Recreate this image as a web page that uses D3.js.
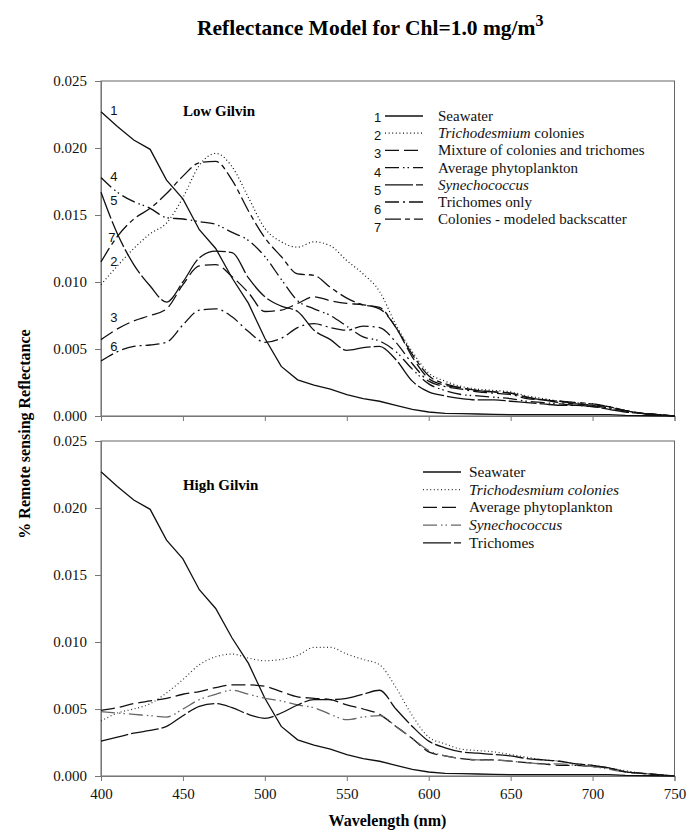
<!DOCTYPE html>
<head>
    <meta charset="utf-8">
    <script src="https://d3js.org/d3.v7.min.js"></script>
    <style>
        body {
            margin: 0;
            background: #fff;
        }

        svg text {
            font-family: "Liberation Serif", "Times New Roman", serif;
        }

        .title {
            font-size: 21.5px;
            font-weight: bold;
        }

        .axis text {
            font-size: 15px;
            fill: #111;
        }

        .axis path, .axis line {
            stroke: #777;
        }

        .frame {
            fill: none;
            stroke: #666;
        }

        .curve {
            fill: none;
            stroke: #111;
            stroke-width: 1.3px;
        }

        .legend text {
            fill: #111;
        }

        svg text.num {
            font-family: "Liberation Sans", Arial, sans-serif;
            font-size: 13px;
            fill: #111;
        }

        .panel-title {
            font-size: 15px;
            font-weight: bold;
        }

        .axis-label {
            font-size: 16px;
            font-weight: bold;
        }
    </style>
</head>

<body>
<script>
    // wavelength grid (nm)
    var wavelengths = [400, 410, 420, 430, 440, 450, 460, 470, 480, 490,
        500, 510, 520, 530, 540, 550, 560, 570, 580, 590,
        600, 610, 620, 630, 640, 650, 660, 670, 680, 690,
        700, 710, 720, 730, 740, 750];

    var xTicks = [400, 450, 500, 550, 600, 650, 700, 750];
    var yTicks = [0, 0.005, 0.010, 0.015, 0.020, 0.025];

    // seawater is the same in both panels
    var seawater = [0.0227, 0.0216, 0.0206, 0.0199, 0.0176, 0.0162, 0.0139, 0.0125, 0.0103, 0.0084,
        0.0058, 0.0037, 0.0027, 0.0023, 0.0020, 0.0016, 0.0013, 0.0011, 0.0008, 0.0005,
        0.0003, 0.0002, 0.00018, 0.00015, 0.00012, 0.0001, 0.0001, 0.0001, 0.0001, 0.0001,
        0.0001, 0.0001, 0.00005, 0.00003, 0.00002, 0];

    // Low Gilvin
    var lowColonies = [0.0098, 0.0112, 0.0125, 0.0136, 0.0144, 0.0163, 0.0187, 0.0196, 0.0186, 0.0163,
        0.0140, 0.0130, 0.0126, 0.0130, 0.0127, 0.0116, 0.0106, 0.0093, 0.0068, 0.0048,
        0.0032, 0.0026, 0.0022, 0.0020, 0.0019, 0.0018, 0.0015, 0.0013, 0.0011, 0.0010,
        0.0009, 0.0007, 0.0004, 0.0002, 0.0001, 0];
    var lowMixture = [0.0057, 0.0065, 0.0071, 0.0075, 0.0080, 0.0098, 0.0112, 0.0113, 0.0104, 0.0092,
        0.0078, 0.0079, 0.0084, 0.0089, 0.0086, 0.0084, 0.0083, 0.0080, 0.0066, 0.0044,
        0.0028, 0.0023, 0.0021, 0.0019, 0.0018, 0.0017, 0.0014, 0.0012, 0.0011, 0.0009,
        0.0008, 0.0007, 0.0004, 0.0002, 0.0001, 0];
    var lowAvgPhyto = [0.0178, 0.0167, 0.0160, 0.0155, 0.0148, 0.0147, 0.0145, 0.0143, 0.0137, 0.0131,
        0.0119, 0.0102, 0.0086, 0.0080, 0.0075, 0.0067, 0.0059, 0.0056, 0.0048, 0.0035,
        0.0024, 0.0019, 0.0016, 0.0015, 0.0014, 0.0013, 0.0011, 0.0010, 0.0009, 0.0008,
        0.0007, 0.0006, 0.0004, 0.0002, 0.0001, 0];
    var lowSynecho = [0.0167, 0.0136, 0.0113, 0.0097, 0.0085, 0.0100, 0.0118, 0.0123, 0.0122, 0.0103,
        0.0089, 0.0082, 0.0078, 0.0064, 0.0057, 0.0049, 0.0051, 0.0052, 0.0042, 0.0026,
        0.0018, 0.0015, 0.0013, 0.0012, 0.0012, 0.0011, 0.0010, 0.0009, 0.0008, 0.0008,
        0.0007, 0.0005, 0.0003, 0.0002, 0.0001, 0];
    var lowTrichomes = [0.0041, 0.0048, 0.0052, 0.0053, 0.0055, 0.0068, 0.0079, 0.0080, 0.0074, 0.0063,
        0.0055, 0.0058, 0.0066, 0.0069, 0.0066, 0.0064, 0.0067, 0.0066, 0.0055, 0.0039,
        0.0026, 0.0022, 0.0020, 0.0018, 0.0017, 0.0016, 0.0013, 0.0012, 0.0010, 0.0009,
        0.0008, 0.0006, 0.0004, 0.0002, 0.0001, 0];
    var lowModeled = [0.0115, 0.0134, 0.0147, 0.0155, 0.0166, 0.0179, 0.0189, 0.0190, 0.0176, 0.0153,
        0.0133, 0.0119, 0.0106, 0.0105, 0.0096, 0.0088, 0.0083, 0.0081, 0.0066, 0.0046,
        0.0030, 0.0024, 0.0021, 0.0019, 0.0018, 0.0017, 0.0014, 0.0012, 0.0011, 0.0010,
        0.0009, 0.0007, 0.0004, 0.0002, 0.0001, 0];

    // High Gilvin
    var highColonies = [0.0041, 0.0047, 0.0050, 0.0054, 0.0062, 0.0072, 0.0083, 0.0089, 0.0091, 0.0088,
        0.0086, 0.0087, 0.0090, 0.0096, 0.0096, 0.0091, 0.0087, 0.0083, 0.0066, 0.0045,
        0.0029, 0.0024, 0.0020, 0.0019, 0.0018, 0.0016, 0.0014, 0.0012, 0.0011, 0.0009,
        0.0008, 0.0006, 0.0004, 0.0002, 0.0001, 0];
    var highAvgPhyto = [0.0049, 0.0051, 0.0054, 0.0056, 0.0058, 0.0061, 0.0063, 0.0066, 0.0068, 0.0068,
        0.0067, 0.0063, 0.0059, 0.0058, 0.0057, 0.0053, 0.0050, 0.0046, 0.0037, 0.0028,
        0.0018, 0.0015, 0.0013, 0.0012, 0.0012, 0.0011, 0.0010, 0.0009, 0.0008, 0.0008,
        0.0007, 0.0006, 0.0003, 0.0002, 0.0001, 0];
    var highSynecho = [0.0048, 0.0047, 0.0046, 0.0045, 0.0044, 0.0050, 0.0057, 0.0061, 0.0064, 0.0061,
        0.0058, 0.0056, 0.0053, 0.0051, 0.0046, 0.0042, 0.0044, 0.0045, 0.0037, 0.0028,
        0.0019, 0.0015, 0.0013, 0.0012, 0.0012, 0.0011, 0.0010, 0.0009, 0.0009, 0.0008,
        0.0007, 0.0005, 0.0003, 0.0002, 0.0001, 0];
    var highTrichomes = [0.0026, 0.0029, 0.0032, 0.0034, 0.0037, 0.0045, 0.0052, 0.0054, 0.0051, 0.0046,
        0.0043, 0.0047, 0.0053, 0.0057, 0.0057, 0.0058, 0.0061, 0.0064, 0.0050, 0.0037,
        0.0026, 0.0021, 0.0018, 0.0017, 0.0016, 0.0015, 0.0013, 0.0012, 0.0011, 0.0009,
        0.0008, 0.0006, 0.0003, 0.0002, 0.0001, 0];

    // legend names, [text, italic] pieces
    var lowNames = [
        [["Seawater", false]],
        [["Trichodesmium", true], [" colonies", false]],
        [["Mixture of colonies and trichomes", false]],
        [["Average phytoplankton", false]],
        [["Synechococcus", true]],
        [["Trichomes only", false]],
        [["Colonies - modeled backscatter", false]]
    ];
    var highNames = [
        [["Seawater", false]],
        [["Trichodesmium colonies", true]],
        [["Average phytoplankton", false]],
        [["Synechococcus", true]],
        [["Trichomes", false]]
    ];

    // curve number labels at the left edge (wavelength, reflectance)
    var curveLabels = ["1", "4", "5", "7", "2", "3", "6"];
    var curveLabelW = [405.7, 405.7, 405.7, 404.5, 405.7, 405.7, 405.7];
    var curveLabelV = [0.0228, 0.0179, 0.0161, 0.01336, 0.01157, 0.00739, 0.00522];

    // line styles
    var dashes = {
        solid: null,
        dotted: "1,2.6",
        longDash: "14,5",
        dashDotDot: "14,4,1.5,3,1.5,4",
        longSolid: "28,3",
        dashDot: "14,4,2,4",
        dashShort: "16,4,5,4"
    };

    var lowStyles = ["solid", "dotted", "longDash", "dashDotDot", "longSolid", "dashDot", "dashShort"];
    var highStyles = ["solid", "dotted", "longDash", "dashDotDot", "longSolid"];
    var highColours = ["#111", "#333", "#111", "#666", "#111"];

    var lowData = [seawater, lowColonies, lowMixture, lowAvgPhyto, lowSynecho, lowTrichomes, lowModeled];
    var highData = [seawater, highColonies, highAvgPhyto, highSynecho, highTrichomes];

    var svg = d3.select("body").append("svg")
        .attr("width", 689)
        .attr("height", 834);

    var x = d3.scaleLinear().domain([400, 750]).range([101, 674.5]);
    var yLow = d3.scaleLinear().domain([0, 0.025]).range([416, 81]);
    var yHigh = d3.scaleLinear().domain([0, 0.025]).range([776, 441]);

    function drawPanel(y, series, styles, colours, showX) {
        var g = svg.append("g");

        g.append("rect")
            .attr("class", "frame")
            .attr("x", x(400))
            .attr("y", y(0.025))
            .attr("width", x(750) - x(400))
            .attr("height", y(0) - y(0.025));

        g.append("g")
            .attr("class", "axis")
            .attr("transform", "translate(" + x(400) + ",0)")
            .call(d3.axisLeft(y).tickValues(yTicks).tickSize(6).tickPadding(8)
                .tickFormat(d3.format(".3f")));

        g.append("g")
            .attr("class", "axis")
            .attr("transform", "translate(0," + y(0) + ")")
            .call(d3.axisBottom(x).tickValues(xTicks).tickSize(5).tickPadding(7)
                .tickFormat(showX ? d3.format("d") : ""));

        var smooth = d3.line()
            .x(function(d, i) { return x(wavelengths[i]); })
            .y(function(d) { return y(d); })
            .curve(d3.curveMonotoneX);

        // seawater has sharp kinks, keep it straight
        var straight = d3.line()
            .x(function(d, i) { return x(wavelengths[i]); })
            .y(function(d) { return y(d); });

        g.selectAll(".curve")
            .data(series)
            .enter().append("path")
            .attr("class", "curve")
            .attr("d", function(d, i) { return i == 0 ? straight(d) : smooth(d); })
            .style("stroke", function(d, i) { return colours ? colours[i] : "#111"; })
            .style("stroke-width", function(d, i) { return styles[i] == "dotted" ? 1.2 : 1.3; })
            .attr("stroke-dasharray", function(d, i) { return dashes[styles[i]]; });

        return g;
    }

    var low = drawPanel(yLow, lowData, lowStyles, null, false);
    var high = drawPanel(yHigh, highData, highStyles, highColours, true);

    // curve numbers in the top panel
    low.selectAll(".curve-num")
        .data(curveLabels)
        .enter().append("text")
        .attr("class", "num")
        .attr("x", function(d, i) { return x(curveLabelW[i]); })
        .attr("y", function(d, i) { return yLow(curveLabelV[i]); })
        .attr("dy", "0.35em")
        .text(function(d) { return d; });

    low.append("text")
        .attr("class", "panel-title")
        .attr("x", x(450))
        .attr("y", yLow(0.0228))
        .attr("dy", "0.35em")
        .text("Low Gilvin");

    high.append("text")
        .attr("class", "panel-title")
        .attr("x", x(450))
        .attr("y", yHigh(0.0217))
        .attr("dy", "0.35em")
        .text("High Gilvin");

    function legend(g, names, styles, colours, lineX, textX, top, step, size) {
        var rows = g.append("g").attr("class", "legend")
            .selectAll("g")
            .data(names)
            .enter().append("g")
            .attr("transform", function(d, i) { return "translate(0," + (top + step * i) + ")"; });

        rows.append("line")
            .attr("x1", lineX)
            .attr("x2", lineX + 38)
            .attr("stroke", function(d, i) { return colours ? colours[i] : "#111"; })
            .attr("stroke-width", 1.3)
            .attr("stroke-dasharray", function(d, i) { return dashes[styles[i]]; });

        var t = rows.append("text")
            .attr("x", textX)
            .attr("dy", "0.33em")
            .style("font-size", size + "px");

        t.selectAll("tspan")
            .data(function(d) { return d; })
            .enter().append("tspan")
            .style("font-style", function(d) { return d[1] ? "italic" : "normal"; })
            .text(function(d) { return d[0]; });
    }

    legend(low, lowNames, lowStyles, null, 385, 438, 116, 17.2, 15);
    legend(high, highNames, highStyles, highColours, 423, 469, 472, 17.7, 15.4);

    // legend numbers (spaced a bit wider than the rows)
    low.selectAll(".leg-num")
        .data(["1", "2", "3", "4", "5", "6", "7"])
        .enter().append("text")
        .attr("class", "num")
        .attr("x", 374)
        .attr("y", function(d, i) { return 117 + 18.4 * i; })
        .attr("dy", "0.35em")
        .text(function(d) { return d; });

    var title = svg.append("text")
        .attr("class", "title")
        .attr("x", 197)
        .attr("y", 35);
    title.append("tspan").text("Reflectance Model for Chl=1.0 mg/m");
    title.append("tspan").attr("dy", -9).style("font-size", "16px").text("3");

    svg.append("text")
        .attr("class", "axis-label")
        .attr("text-anchor", "middle")
        .attr("transform", "translate(30,434) rotate(-90)")
        .text("% Remote sensing Reflectance");

    svg.append("text")
        .attr("class", "axis-label")
        .attr("text-anchor", "middle")
        .attr("x", 387.5)
        .attr("y", 826)
        .text("Wavelength (nm)");
</script>
</body>
</html>
